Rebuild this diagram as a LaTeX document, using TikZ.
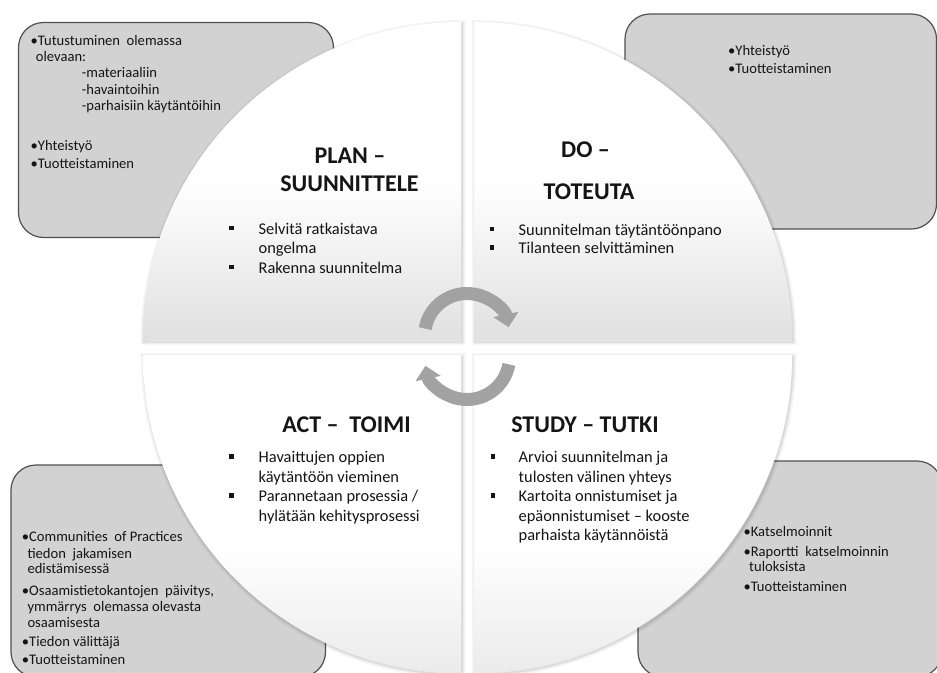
\documentclass[tikz,border=0pt]{standalone}
\usepackage{fontspec}
\setmainfont{Carlito}
\usetikzlibrary{arrows.meta}

\definecolor{boxfill}{HTML}{D2D2D2}
\definecolor{boxline}{HTML}{505050}
\definecolor{arrowgray}{HTML}{A2A2A2}
\definecolor{ink}{HTML}{151515}

% quarter fills: white on top, light grey towards the bottom
\pgfdeclareverticalshading{quadupper}{100bp}{color(0bp)=(black!12); color(25bp)=(black!12); color(50bp)=(white); color(100bp)=(white)}
\pgfdeclareverticalshading{quadlower}{100bp}{color(0bp)=(black!8); color(25bp)=(black!8); color(45bp)=(white); color(100bp)=(white)}

% the four quarters of the cycle
\newcommand{\planpath}{(461,340) -- ++(-318,0) arc[start angle=180, end angle=270, radius=318] -- cycle}
\newcommand{\dopath}{(474,340) -- ++(0,-318) arc[start angle=270, end angle=360, radius=318] -- cycle}
\newcommand{\studypath}{(474,355) -- ++(318,0) arc[start angle=0, end angle=90, radius=318] -- cycle}
\newcommand{\actpath}{(461,355) -- ++(0,318) arc[start angle=90, end angle=180, radius=318] -- cycle}
\newcommand{\softshadow}[1]{%
  \foreach \w/\o in {7/0.03, 4.5/0.04, 2/0.07}{
    \draw[line width=\w pt, black, opacity=\o, shift={(1,1.5)}] #1;
  }}

\tikzset{
  infobox/.style={fill=boxfill, draw=boxline, line width=1.2pt, rounded corners=25pt},
  boxtxt/.style={font=\fontsize{14.6}{17}\selectfont, text=ink, inner sep=0pt, anchor=base west},
  qtxt/.style={font=\fontsize{16.4}{19.5}\selectfont, text=ink, inner sep=0pt, anchor=base west},
  qtitle/.style={font=\fontsize{24}{28}\selectfont\bfseries, text=ink, inner sep=0pt, anchor=base},
  qbullet/.style={fill=ink, minimum size=4.5pt, inner sep=0pt, outer sep=0pt},
  cyclearrow/.style={draw=arrowgray, line width=13pt, -{Triangle[length=13pt, width=25pt, fill=arrowgray]}}
}

\begin{document}
\begin{tikzpicture}[x=1pt, y=-1pt]
\useasboundingbox (0,0) rectangle (937,672);
\clip (0,0) rectangle (937,672);

% ---------- side boxes ----------
\path[infobox] (18.5,22.5) rectangle (333.5,237.5);
\path[infobox] (625,14) rectangle (936.5,229);
\path[infobox] (11,465) rectangle (325.5,677);
\path[infobox] (638,461) rectangle (942,677);

\node[boxtxt] (tl1) at (30.5,45) {•Tutustuminen\ \ olemassa};
\node[boxtxt] (tl2) at (35.7,61.7) {olevaan:};
\node[boxtxt] (tl3) at (81.7,77.5) {-materiaaliin};
\node[boxtxt] (tl4) at (81.7,94) {-havaintoihin};
\node[boxtxt] (tl5) at (81.7,110.3) {-parhaisiin käytäntöihin};
\node[boxtxt] (tl6) at (30.5,150.7) {•Yhteistyö};
\node[boxtxt] (tl7) at (30.5,168.3) {•Tuotteistaminen};

\node[boxtxt] (tr1) at (728,55) {•Yhteistyö};
\node[boxtxt] (tr2) at (728,73.3) {•Tuotteistaminen};

\node[boxtxt] (bl1) at (21.7,541.7) {•Communities\ \ of Practices};
\node[boxtxt] (bl2) at (27.3,558.3) {tiedon\ \ jakamisen};
\node[boxtxt] (bl3) at (27.3,573.5) {edistämisessä};
\node[boxtxt] (bl4) at (21.7,595.7) {•Osaamistietokantojen\ \ päivitys,};
\node[boxtxt] (bl5) at (27.3,611.7) {ymmärrys\ \ olemassa olevasta};
\node[boxtxt] (bl6) at (27.3,627) {osaamisesta};
\node[boxtxt] (bl7) at (21.7,646.7) {•Tiedon välittäjä};
\node[boxtxt] (bl8) at (21.7,664.5) {•Tuotteistaminen};

\node[boxtxt] (br1) at (743.3,536.7) {•Katselmoinnit};
\node[boxtxt] (br2) at (743.3,556.7) {•Raportti\ \ katselmoinnin};
\node[boxtxt] (br3) at (749,571.7) {tuloksista};
\node[boxtxt] (br4) at (743.3,591.7) {•Tuotteistaminen};

% ---------- the four quarters ----------
\softshadow{\planpath}
\softshadow{\dopath}
\softshadow{\studypath}
\softshadow{\actpath}
\shade[shading=quadupper] \planpath;
\shade[shading=quadupper] \dopath;
\shade[shading=quadlower] \studypath;
\shade[shading=quadlower] \actpath;

% PLAN
\node[qtitle] (planT1) at (350,163.5) {PLAN –};
\node[qtitle] (planT2) at (349.5,191.7) {SUUNNITTELE};
\node[qbullet] (planB1) at (231.5,228) {};
\node[qtxt] (plan1) at (258.5,234) {Selvitä ratkaistava};
\node[qtxt] (plan2) at (258.5,253.5) {ongelma};
\node[qbullet] (planB2) at (231.5,267) {};
\node[qtxt] (plan3) at (258.5,273) {Rakenna suunnitelma};

% DO
\node[qtitle] (doT1) at (585.5,157) {DO –};
\node[qtitle] (doT2) at (589,199.3) {TOTEUTA};
\node[qbullet] (doB1) at (492,229) {};
\node[qtxt] (do1) at (518.5,235) {Suunnitelman täytäntöönpano};
\node[qbullet] (doB2) at (492,247.5) {};
\node[qtxt] (do2) at (518.5,253.3) {Tilanteen selvittäminen};

% ACT
\node[qtitle] (actT) at (346.5,432.5) {ACT –\ \ TOIMI};
\node[qbullet] (actB1) at (231.5,456.5) {};
\node[qtxt] (act1) at (258.5,462.5) {Havaittujen oppien};
\node[qtxt] (act2) at (258.5,482) {käytäntöön vieminen};
\node[qbullet] (actB2) at (231.5,495.5) {};
\node[qtxt] (act3) at (258.5,501.5) {Parannetaan prosessia /};
\node[qtxt] (act4) at (258.5,521) {hylätään kehitysprosessi};

% STUDY
\node[qtitle] (studyT) at (585,432.5) {STUDY – TUTKI};
\node[qbullet] (studyB1) at (493,456.5) {};
\node[qtxt] (study1) at (518.5,462.5) {Arvioi suunnitelman ja};
\node[qtxt] (study2) at (518.5,482) {tulosten välinen yhteys};
\node[qbullet] (studyB2) at (493,495.5) {};
\node[qtxt] (study3) at (518.5,501.5) {Kartoita onnistumiset ja};
\node[qtxt] (study4) at (518.5,521) {epäonnistumiset – kooste};
\node[qtxt] (study5) at (518.5,540.5) {parhaista käytännöistä};

% ---------- cycle arrows in the middle ----------
\coordinate (upc) at (467,336);
\coordinate (lowc) at (467,357);
\draw[cyclearrow] ([shift={(-170:42.5)}]upc) arc[start angle=-170, end angle=-12, radius=42.5];
\draw[cyclearrow] ([shift={(10:42.5)}]lowc) arc[start angle=10, end angle=168, radius=42.5];
\end{tikzpicture}
\end{document}
